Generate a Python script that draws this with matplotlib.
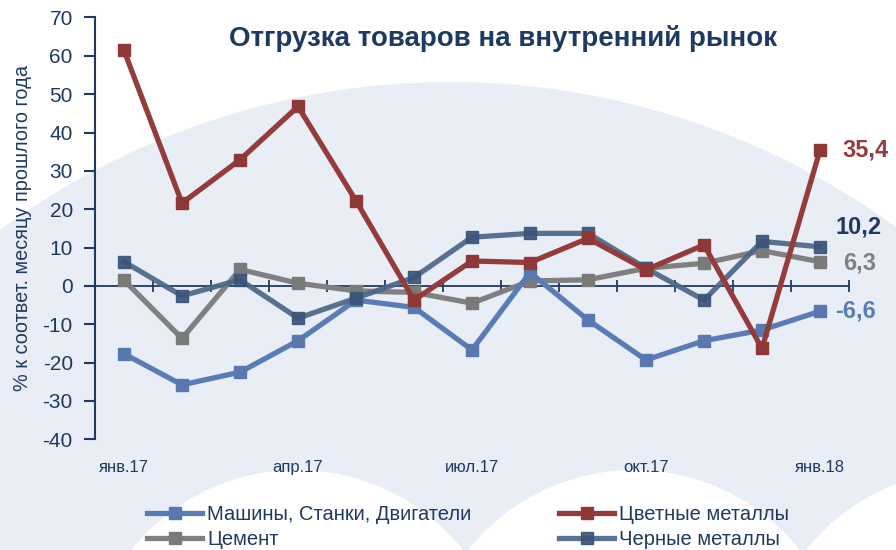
import matplotlib
matplotlib.use("Agg")
import matplotlib.pyplot as plt
from matplotlib.patches import Circle
import numpy as np

# ---------------- data ----------------
months = ["янв.17", "фев.17", "мар.17", "апр.17", "май.17", "июн.17", "июл.17",
          "авг.17", "сен.17", "окт.17", "ноя.17", "дек.17", "янв.18"]
tick_labels = ["янв.17", "", "", "апр.17", "", "", "июл.17", "", "", "окт.17", "", "", "янв.18"]

machines = [-17.7, -25.8, -22.5, -14.3, -3.7, -5.6, -16.7, 3.5, -8.9, -19.3, -14.3, -11.5, -6.6]
nonferrous = [61.4, 21.6, 32.9, 46.8, 22.2, -3.7, 6.5, 6.1, 12.4, 4.2, 10.7, -16.3, 35.4]
cement = [1.5, -13.7, 4.3, 0.7, -1.3, -1.7, -4.5, 1.3, 1.6, 4.6, 5.9, 9.2, 6.3]
ferrous = [6.3, -2.6, 1.6, -8.4, -3.2, 2.2, 12.7, 13.7, 13.7, 4.6, -3.7, 11.6, 10.2]

names = ["Машины, Станки, Двигатели", "Цветные металлы", "Цемент", "Черные металлы"]
end_labels = ["-6,6", "35,4", "6,3", "10,2"]

# ---------------- style ----------------
NAVY = "#1F3A60"
C_MACH = "#5A7CB6"
C_NONF = "#943C3B"
C_CEM = "#808080"
C_FER = "#4C6688"
BG = "#E9EDF5"

plt.rcParams["font.family"] = ["Liberation Sans", "DejaVu Sans"]
plt.rcParams["axes.unicode_minus"] = False

W, H = 896, 550
fig = plt.figure(figsize=(W / 100, H / 100), dpi=100)
fig.patch.set_facecolor("white")

# decorative background
bg = fig.add_axes([0, 0, 1, 1], zorder=-5)
bg.set_xlim(0, W)
bg.set_ylim(H, 0)
bg.axis("off")
bg.add_patch(Circle((450, 840), 758, facecolor=BG, edgecolor="none"))
bg.add_patch(Circle((0, 760), 300, facecolor=BG, edgecolor="none"))
bg.add_patch(Circle((896, 760), 300, facecolor=BG, edgecolor="none"))
for cx in (297, 634, 972):
    bg.add_patch(Circle((cx, 682), 212, facecolor="white", edgecolor="none"))

# main axes
L, R, T, B = 95, 849, 17.5, 439.3
ax = fig.add_axes([L / W, 1 - B / H, (R - L) / W, (B - T) / H])
ax.set_facecolor("none")

x = np.arange(len(months))
series = [
    (cement, C_CEM, "#7A7A7A", 1.0, 2),
    (machines, C_MACH, "#5878B0", 1.0, 3),
    (ferrous, C_FER, "#3A5478", 0.92, 4),
    (nonferrous, C_NONF, "#8E3837", 1.0, 5),
]
handles = {}
for vals, col, mcol, a, z in series:
    ln, = ax.plot(x, vals, color=col, lw=3.8, marker="s", ms=8, mfc=mcol, mec=mcol,
                  alpha=a, zorder=z, solid_joinstyle="miter")
    handles[id(vals)] = ln

ax.set_xlim(-0.5, len(months) - 0.5)
ax.set_ylim(-40, 70)
ax.set_yticks(np.arange(-40, 71, 10))
ax.tick_params(axis="y", direction="out", length=8, width=1.5, color=NAVY,
               labelsize=15, labelcolor=NAVY, pad=8)
ax.set_xticks(x)
ax.set_xticklabels(tick_labels)
ax.tick_params(axis="x", length=0, labelsize=12, labelcolor=NAVY, pad=15)
for s in ("top", "right", "bottom"):
    ax.spines[s].set_visible(False)
ax.spines["left"].set_color(NAVY)
ax.spines["left"].set_linewidth(1.5)

# zero axis line with category boundary ticks
sec = ax.secondary_xaxis(40 / 110)
sec.set_xticks(np.arange(-0.5, len(months), 1.0))
sec.tick_params(direction="inout", length=9, width=1.3, color=NAVY, labelbottom=False)
sec.spines["bottom"].set_color(NAVY)
sec.spines["bottom"].set_linewidth(1.3)

# end labels (offsets in points)
end_specs = [(machines, end_labels[0], C_MACH, (11, 0)),
             (nonferrous, end_labels[1], C_NONF, (16, 0)),
             (cement, end_labels[2], C_CEM, (17, -1)),
             (ferrous, end_labels[3], NAVY, (11, 14))]
for vals, lab, col, off in end_specs:
    ax.annotate(lab, xy=(x[-1], vals[-1]), xytext=off, textcoords="offset points",
                ha="left", va="center", fontsize=17, fontweight="bold", color=col,
                annotation_clip=False)

# title
fig.text(503 / W, 1 - 38 / H, "Отгрузка товаров на внутренний рынок", ha="center", va="center",
         fontsize=20, fontweight="bold", color=NAVY)

# y label
fig.text(23 / W, 1 - 228 / H, "% к соответ. месяцу прошлого года", rotation=90,
         ha="center", va="center", fontsize=14.3, color=NAVY)

# legends (two columns)
col1 = [handles[id(machines)], handles[id(cement)]]
col2 = [handles[id(nonferrous)], handles[id(ferrous)]]
lab1 = [names[0], names[2]]
lab2 = [names[1], names[3]]
kw = dict(frameon=False, loc="upper left", borderpad=0, borderaxespad=0,
          handlelength=2.75, handletextpad=0.25, labelspacing=0.3,
          prop={"size": 14.5}, labelcolor=NAVY)
fig.legend(col1, lab1, bbox_to_anchor=(147 / W, 1 - 505 / H), **kw)
fig.legend(col2, lab2, bbox_to_anchor=(559 / W, 1 - 505 / H), **kw)

fig.savefig("out.png", dpi=100, facecolor=fig.get_facecolor())
